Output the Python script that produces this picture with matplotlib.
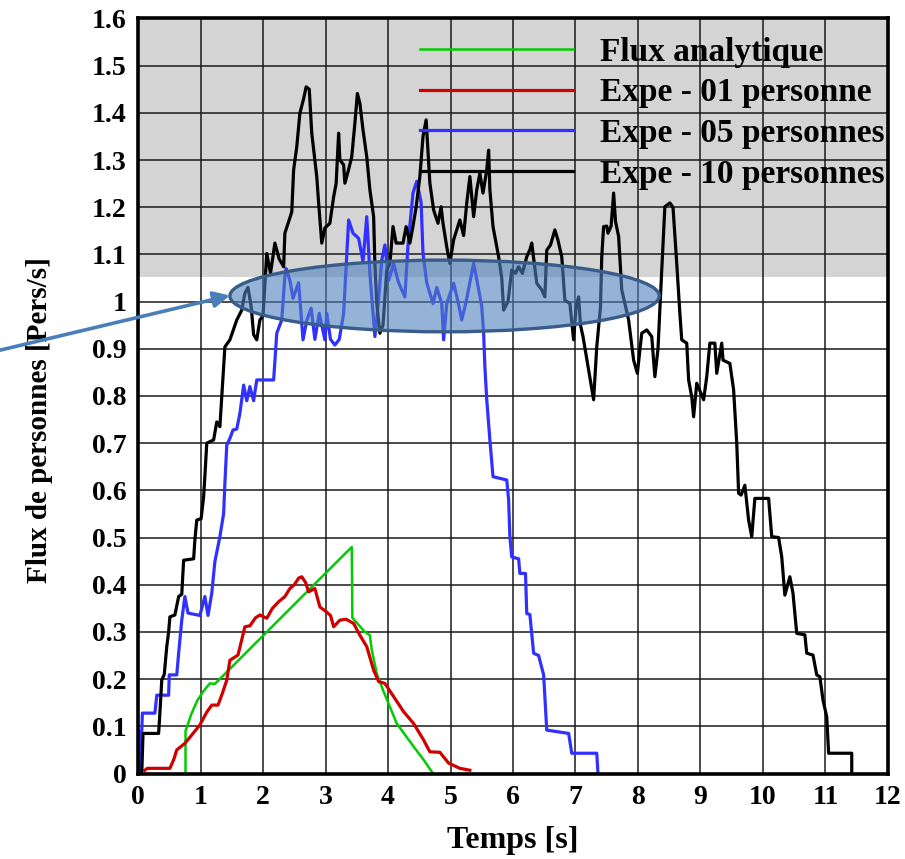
import numpy as np
import matplotlib.pyplot as plt
from matplotlib.patches import Ellipse

# Flux analytique
green_x = [0.76, 0.76, 0.85, 0.95, 1.05, 1.15, 1.23, 3.42, 3.43, 3.63, 3.71, 3.74, 3.82, 3.92, 4.14, 4.41, 4.57, 4.72]
green_y = [0.0, 0.09, 0.125, 0.155, 0.175, 0.191, 0.19, 0.48, 0.33, 0.30, 0.293, 0.262, 0.212, 0.177, 0.106, 0.057, 0.029, 0.0]

# Expe - 01 personne
red_x = [0.11, 0.15, 0.51, 0.57, 0.62, 0.75, 0.85, 0.99, 1.1, 1.18, 1.28, 1.35, 1.42, 1.47, 1.6, 1.71, 1.79, 1.88,
         1.95, 2.06, 2.15, 2.25, 2.35, 2.43, 2.5, 2.57, 2.62, 2.68, 2.73, 2.83, 2.91, 3.02, 3.08, 3.13, 3.23, 3.33,
         3.45, 3.55, 3.66, 3.77, 3.85, 3.95, 4.09, 4.25, 4.41, 4.57, 4.67, 4.83, 4.97, 5.15, 5.31]
red_y = [0.007, 0.011, 0.011, 0.029, 0.05, 0.064, 0.08, 0.103, 0.13, 0.145, 0.145, 0.17, 0.198, 0.24, 0.251, 0.311,
         0.313, 0.33, 0.336, 0.329, 0.35, 0.364, 0.375, 0.392, 0.40, 0.414, 0.417, 0.405, 0.385, 0.392, 0.353, 0.342,
         0.335, 0.311, 0.325, 0.327, 0.318, 0.293, 0.269, 0.219, 0.195, 0.191, 0.163, 0.131, 0.106, 0.071, 0.046,
         0.045, 0.022, 0.011, 0.007]

# Expe - 05 personnes
blue_x = [0.0, 0.03, 0.03, 0.06, 0.07, 0.27, 0.3, 0.49, 0.5, 0.62, 0.65, 0.7, 0.75, 0.8, 0.99, 1.07, 1.12, 1.18,
          1.23, 1.31, 1.37, 1.39, 1.42, 1.47, 1.52, 1.58, 1.63, 1.69, 1.74, 1.79, 1.85, 1.9, 2.17, 2.22, 2.3, 2.35,
          2.37, 2.43, 2.48, 2.57, 2.62, 2.64, 2.7, 2.77, 2.83, 2.9, 2.99, 3.02, 3.08, 3.15, 3.22, 3.29, 3.37, 3.44,
          3.53, 3.6, 3.66, 3.71, 3.79, 3.84, 3.9, 3.95, 4.01, 4.09, 4.17, 4.27, 4.32, 4.4, 4.46, 4.53, 4.56, 4.62,
          4.72, 4.78, 4.86, 4.89, 4.94, 5.05, 5.12, 5.18, 5.25, 5.37, 5.43, 5.5, 5.53, 5.55, 5.58, 5.63, 5.68, 5.9,
          5.93, 5.95, 5.98, 6.09, 6.11, 6.2, 6.22, 6.27, 6.33, 6.41, 6.49, 6.54, 6.89, 6.94, 7.34, 7.36]
blue_y = [0.0, 0.0, 0.089, 0.089, 0.128, 0.128, 0.166, 0.166, 0.209, 0.209, 0.255, 0.325, 0.375, 0.34, 0.335,
          0.375, 0.335, 0.382, 0.449, 0.502, 0.551, 0.615, 0.696, 0.71, 0.728, 0.73, 0.763, 0.823, 0.79, 0.82, 0.79,
          0.834, 0.834, 0.933, 0.961, 1.053, 1.07, 1.045, 1.007, 1.04, 0.954, 0.919, 0.96, 0.986, 0.92, 0.975, 0.919,
          0.975, 0.92, 0.908, 0.92, 0.975, 1.173, 1.145, 1.134, 1.085, 1.18, 1.06, 0.926, 0.99, 1.088, 1.12, 1.045,
          1.08, 1.04, 1.01, 1.12, 1.23, 1.255, 1.21, 1.102, 1.04, 0.996, 1.03, 0.996, 0.919, 0.996, 1.039, 1.0,
          0.961, 1.0, 1.081, 1.04, 0.99, 0.933, 0.862, 0.792, 0.707, 0.629, 0.622, 0.58, 0.502, 0.459, 0.455, 0.424,
          0.424, 0.339, 0.337, 0.255, 0.25, 0.209, 0.092, 0.085, 0.043, 0.043, 0.0]

# Expe - 10 personnes
black_x = [0.0, 0.06, 0.08, 0.33, 0.35, 0.38, 0.42, 0.46, 0.49, 0.51, 0.59, 0.65, 0.7, 0.73, 0.89, 0.91, 0.94,
           1.01, 1.05, 1.07, 1.1, 1.21, 1.26, 1.31, 1.34, 1.39, 1.47, 1.58, 1.66, 1.71, 1.76, 1.81, 1.85, 1.9, 1.95,
           2.0, 2.06, 2.12, 2.19, 2.26, 2.33, 2.35, 2.46, 2.49, 2.54, 2.59, 2.65, 2.69, 2.74, 2.78, 2.86, 2.89, 2.94,
           2.99, 3.07, 3.13, 3.17, 3.21, 3.23, 3.29, 3.31, 3.37, 3.42, 3.47, 3.51, 3.55, 3.6, 3.66, 3.71, 3.77, 3.79,
           3.82, 3.87, 3.92, 3.98, 4.03, 4.08, 4.13, 4.24, 4.29, 4.35, 4.4, 4.45, 4.51, 4.56, 4.61, 4.67, 4.73, 4.8,
           4.85, 4.88, 4.94, 4.99, 5.05, 5.15, 5.21, 5.26, 5.31, 5.37, 5.42, 5.47, 5.52, 5.58, 5.61, 5.63, 5.68,
           5.77, 5.82, 5.85, 5.92, 5.98, 6.04, 6.09, 6.15, 6.22, 6.27, 6.3, 6.38, 6.46, 6.51, 6.54, 6.6, 6.67, 6.72,
           6.78, 6.83, 6.91, 6.97, 7.01, 7.05, 7.08, 7.12, 7.21, 7.29, 7.34, 7.4, 7.42, 7.45, 7.5, 7.52, 7.57, 7.61,
           7.64, 7.69, 7.74, 7.85, 7.93, 7.99, 8.06, 8.14, 8.22, 8.27, 8.32, 8.38, 8.43, 8.51, 8.56, 8.62, 8.67, 8.7,
           8.78, 8.81, 8.86, 8.89, 8.94, 9.05, 9.1, 9.15, 9.23, 9.26, 9.34, 9.36, 9.47, 9.53, 9.58, 9.61, 9.65, 9.71,
           9.77, 9.82, 9.87, 10.09, 10.14, 10.25, 10.3, 10.35, 10.43, 10.48, 10.54, 10.67, 10.7, 10.8, 10.86, 10.91,
           10.96, 11.02, 11.05, 11.42, 11.42]
black_y = [0.0, 0.0, 0.085, 0.085, 0.128, 0.198, 0.21, 0.269, 0.3, 0.332, 0.336, 0.375, 0.38, 0.452, 0.455,
           0.495, 0.537, 0.54, 0.587, 0.63, 0.7, 0.707, 0.745, 0.735, 0.798, 0.904, 0.919, 0.961, 0.982, 1.018, 1.03,
           0.99, 0.93, 0.919, 0.961, 0.97, 1.102, 1.06, 1.124, 1.09, 1.074, 1.145, 1.19, 1.279, 1.328, 1.399, 1.43,
           1.455, 1.45, 1.357, 1.265, 1.209, 1.124, 1.156, 1.166, 1.222, 1.25, 1.357, 1.3, 1.29, 1.251, 1.28, 1.307,
           1.378, 1.441, 1.42, 1.364, 1.307, 1.237, 1.18, 1.081, 0.996, 0.933, 0.95, 1.067, 1.08, 1.159, 1.124, 1.124,
           1.159, 1.124, 1.16, 1.2, 1.265, 1.35, 1.385, 1.251, 1.194, 1.166, 1.201, 1.166, 1.116, 1.081, 1.131,
           1.173, 1.14, 1.209, 1.265, 1.18, 1.237, 1.272, 1.23, 1.279, 1.321, 1.237, 1.159, 1.095, 1.05, 0.982, 1.0,
           1.067, 1.06, 1.074, 1.06, 1.095, 1.11, 1.124, 1.039, 1.025, 1.01, 1.109, 1.12, 1.152, 1.13, 1.095, 1.003,
           0.996, 0.919, 0.99, 1.01, 0.95, 0.926, 0.855, 0.792, 0.904, 0.989, 1.095, 1.159, 1.16, 1.145, 1.16, 1.23,
           1.17, 1.138, 1.025, 0.961, 0.876, 0.848, 0.933, 0.94, 0.926, 0.841, 0.9, 1.067, 1.201, 1.209, 1.2, 1.081,
           0.975, 0.919, 0.912, 0.834, 0.798, 0.756, 0.827, 0.792, 0.841, 0.912, 0.912, 0.848, 0.912, 0.876, 0.869,
           0.813, 0.7, 0.594, 0.59, 0.611, 0.537, 0.502, 0.583, 0.583, 0.502, 0.5, 0.459, 0.378, 0.417, 0.382, 0.297,
           0.294, 0.255, 0.251, 0.209, 0.205, 0.156, 0.12, 0.043, 0.043, 0.0]

labels = ['Flux analytique', 'Expe - 01 personne', 'Expe - 05 personnes', 'Expe - 10 personnes']

plt.rcParams['font.family'] = ['Liberation Serif', 'DejaVu Serif']
plt.rcParams['font.weight'] = 'bold'

fig = plt.figure(figsize=(9.05, 8.59), dpi=100)
ax = fig.add_axes([0.1525, 0.0995, 0.8287, 0.879])

ax.set_xlim(0, 12)
ax.set_ylim(0, 1.6)
ax.axhspan(1.052, 1.6, color='#d4d4d4', zorder=0, lw=0)

ax.set_xticks(np.arange(0, 13, 1))
ax.set_yticks(np.round(np.arange(0, 1.61, 0.1), 1))
ax.set_yticklabels(['%g' % v for v in np.round(np.arange(0, 1.61, 0.1), 1)])
ax.grid(True, color='#1a1a1a', lw=1.1, zorder=1)
ax.set_axisbelow(True)
ax.tick_params(length=0, labelsize=20, pad=8)
for s in ax.spines.values():
    s.set_linewidth(2.6)
    s.set_zorder(6)

ax.plot(green_x, green_y, color='#00cc00', lw=1.8, label=labels[0], zorder=3)
ax.plot(red_x, red_y, color='#d00000', lw=2.3, label=labels[1], zorder=3)
ax.plot(blue_x, blue_y, color='#3030ff', lw=2.3, label=labels[2], zorder=3)
ax.plot(black_x, black_y, color='black', lw=2.3, label=labels[3], zorder=3)

ell = Ellipse((4.905, 1.012), 6.87, 0.152, facecolor=(79/255, 129/255, 189/255, 0.6),
              edgecolor='#385d8a', lw=2.4, zorder=5)
ax.add_patch(ell)
ax.annotate('', xy=(1.47, 1.013), xytext=(-2.53, 0.887),
            arrowprops=dict(arrowstyle='-|>', color='#4a7ebb', lw=2.6, mutation_scale=24,
                            shrinkA=0, shrinkB=0),
            annotation_clip=False, zorder=7)

ax.legend(loc='upper left', bbox_to_anchor=(0.376, 0.976), frameon=False, fontsize=24,
          handlelength=4.6, handletextpad=0.8, labelspacing=0.29, borderpad=0, borderaxespad=0)

ax.set_xlabel('Temps [s]', fontsize=23, fontweight='bold', labelpad=12)
ax.set_ylabel('Flux de personnes [Pers/s]', fontsize=21, fontweight='bold')
ax.yaxis.set_label_coords(-0.113, 0.468)

fig.savefig('out.png', dpi=100)
